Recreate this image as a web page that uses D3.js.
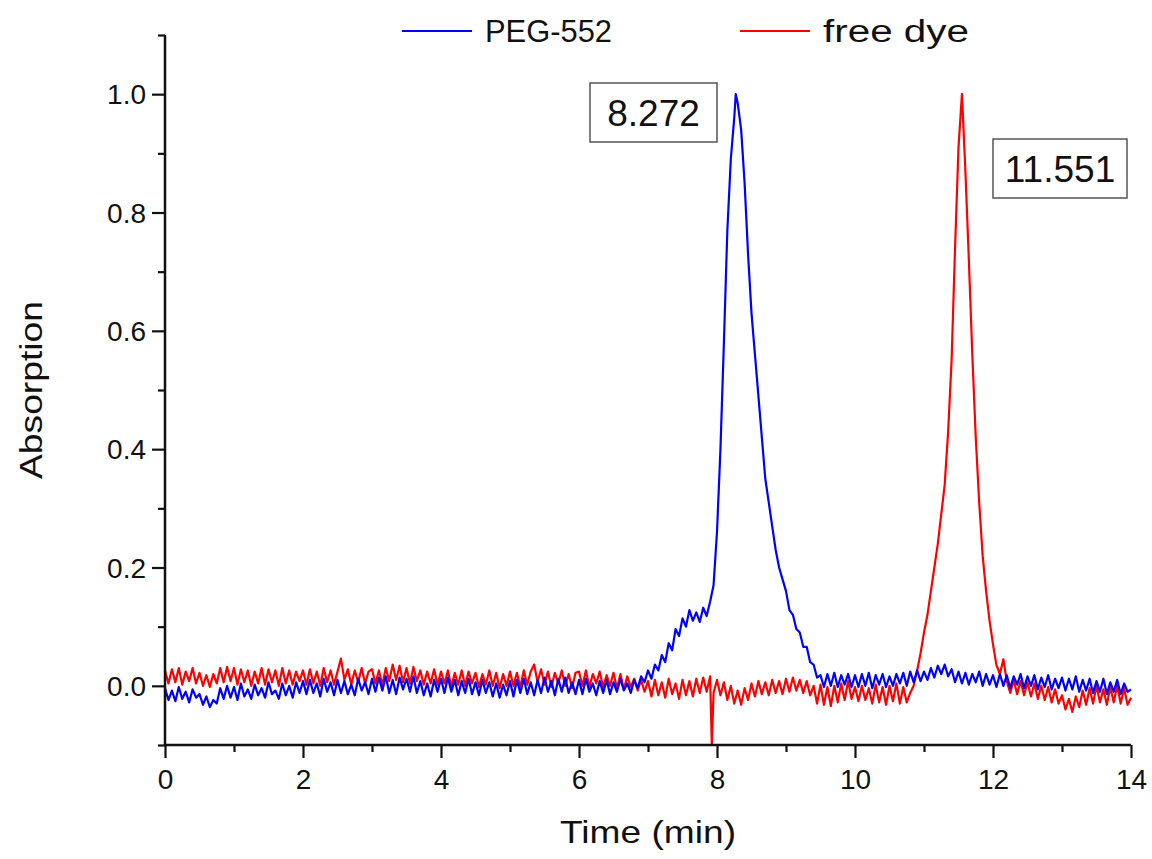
<!DOCTYPE html>
<html>
<head>
<meta charset="utf-8">
<script src="https://cdn.jsdelivr.net/npm/d3@7"></script>
<style>
  html, body { margin: 0; padding: 0; background: #fff; }
  svg { display: block; }
  text { font-family: "Liberation Sans", Arial, Helvetica, sans-serif; fill: #111; }
</style>
</head>
<body>
<svg id="chart" width="1152" height="859"></svg>
<script>
// ---------------- data ----------------
const timeStart = 0;
const timeStep = 0.05;   // min, sampling of the traces below
const xTicks = [0, 2, 4, 6, 8, 10, 12, 14];
const yTicks = [0.0, 0.2, 0.4, 0.6, 0.8, 1.0];
const seriesNames = ["PEG-552", "free dye"];
const peakLabels = ["8.272", "11.551"];

// PEG-552 trace (absorption), one value per 0.05 min from 0 to 14 min
const pegAbs = [
  -0.004,-0.024,-0.008,-0.026,-0.002,-0.022,-0.010,-0.028,-0.006,-0.020,-0.014,-0.032,-0.018,-0.036,-0.024,-0.030,-0.004,-0.022,0.000,-0.020,
  -0.002,-0.024,0.004,-0.018,-0.006,-0.022,0.002,-0.016,-0.004,-0.020,0.006,-0.014,-0.008,-0.022,0.004,-0.016,0.000,-0.020,0.006,-0.012,
  0.008,-0.014,0.010,-0.012,0.004,-0.018,0.012,-0.010,0.006,-0.016,0.010,-0.012,0.008,-0.014,0.002,-0.016,0.012,-0.008,0.006,-0.014,
  0.012,-0.010,0.014,-0.008,0.016,-0.012,0.010,-0.014,0.014,-0.006,0.012,-0.010,0.016,-0.012,0.008,-0.016,0.004,-0.018,0.010,-0.010,
  0.012,-0.012,0.014,-0.010,0.010,-0.016,0.008,-0.012,0.012,-0.014,0.006,-0.016,0.010,-0.012,0.006,-0.018,0.004,-0.020,0.002,-0.016,
  0.008,-0.018,0.010,-0.012,0.012,-0.014,0.006,-0.016,0.010,-0.012,0.014,-0.010,0.008,-0.016,0.012,-0.010,0.014,-0.012,0.006,-0.014,
  0.010,-0.014,0.012,-0.010,0.004,-0.016,0.008,-0.012,0.010,-0.014,0.006,-0.010,0.012,-0.008,0.004,-0.012,0.010,-0.004,0.016,0.006,
  0.026,0.012,0.036,0.026,0.052,0.040,0.072,0.060,0.096,0.084,0.114,0.100,0.128,0.110,0.124,0.108,0.132,0.118,0.142,0.170,
  0.260,0.400,0.580,0.770,0.890,0.960,0.985,0.940,0.850,0.730,0.630,0.560,0.490,0.420,0.350,0.310,0.270,0.230,0.200,0.180,
  0.160,0.128,0.120,0.096,0.090,0.066,0.066,0.040,0.036,0.014,0.018,-0.002,0.020,0.000,0.022,-0.002,0.018,0.002,0.020,-0.002,
  0.018,-0.002,0.020,0.000,0.022,-0.004,0.018,0.002,0.020,-0.002,0.016,0.000,0.020,0.004,0.022,0.000,0.024,0.006,0.026,0.008,
  0.024,0.010,0.030,0.014,0.034,0.020,0.036,0.016,0.028,0.006,0.024,0.004,0.022,0.002,0.020,0.006,0.024,0.000,0.020,0.002,
  0.018,-0.002,0.020,0.000,0.018,-0.004,0.016,0.002,0.020,-0.004,0.016,0.000,0.018,-0.006,0.014,-0.002,0.018,-0.006,0.012,-0.004,
  0.014,-0.008,0.012,-0.006,0.016,-0.010,0.010,-0.008,0.012,-0.012,0.008,-0.010,0.012,-0.014,0.006,-0.010,0.010,-0.014,0.004,-0.010,
  -0.006
];

// free dye trace (absorption), one value per 0.05 min from 0 to 14 min
const dyeAbs = [
  0.026,0.004,0.028,0.006,0.030,0.002,0.024,0.008,0.030,0.004,0.022,0.000,0.018,-0.002,0.020,0.004,0.030,0.006,0.032,0.008,
  0.030,0.002,0.028,0.006,0.026,0.000,0.024,0.004,0.030,0.002,0.028,0.006,0.026,0.000,0.030,0.004,0.026,0.002,0.024,0.008,
  0.026,0.002,0.028,0.004,0.024,0.000,0.030,0.006,0.026,0.002,0.024,0.046,0.010,0.028,0.002,0.026,0.006,0.030,0.004,0.024,
  0.028,0.004,0.026,0.002,0.030,0.008,0.036,0.010,0.034,0.006,0.030,0.004,0.032,0.008,0.026,0.002,0.024,0.004,0.028,0.002,
  0.024,0.004,0.026,-0.002,0.022,0.002,0.026,0.000,0.024,0.004,0.022,-0.002,0.020,0.002,0.026,0.000,0.022,-0.004,0.020,0.000,
  0.024,0.000,0.022,-0.002,0.026,0.002,0.024,0.036,0.006,0.028,0.002,0.024,-0.002,0.022,0.004,0.026,0.000,0.020,-0.004,0.022,
  0.024,0.000,0.026,-0.002,0.020,0.004,0.024,-0.002,0.018,0.000,0.022,-0.004,0.020,-0.006,0.016,-0.002,0.012,-0.008,0.010,-0.010,
  0.008,-0.018,0.010,-0.016,0.006,-0.020,0.012,-0.014,0.004,-0.022,0.010,-0.016,0.008,-0.018,0.012,-0.012,0.014,-0.010,0.016,-0.012,
  0.010,-0.016,0.006,-0.024,0.000,-0.030,-0.008,-0.032,-0.004,-0.024,0.004,-0.018,0.008,-0.014,0.006,-0.016,0.010,-0.012,0.008,-0.014,
  0.012,-0.010,0.014,-0.008,0.010,-0.012,0.008,-0.016,0.000,-0.030,0.002,-0.032,-0.002,-0.034,0.000,-0.028,0.004,-0.024,0.008,-0.022,
  -0.002,-0.026,0.000,-0.024,-0.004,-0.030,0.002,-0.028,-0.002,-0.032,0.000,-0.026,0.004,-0.030,-0.002,-0.028,-0.012,0.000,0.025,0.055,
  0.090,0.120,0.160,0.200,0.240,0.290,0.340,0.430,0.550,0.740,0.910,1.000,0.870,0.720,0.560,0.420,0.310,0.220,0.160,0.110,
  0.070,0.035,0.020,0.045,0.008,-0.012,0.010,-0.014,0.008,-0.016,0.006,-0.018,0.004,-0.022,0.000,-0.024,-0.002,-0.028,-0.006,-0.030,
  -0.016,-0.040,-0.022,-0.044,-0.018,-0.036,-0.008,-0.032,-0.004,-0.030,0.000,-0.028,-0.006,-0.032,-0.002,-0.028,0.000,-0.030,-0.004,-0.032,
  -0.020
];

// individual readings between the regular samples: [time, absorption]
const pegExtra = [[8.272, 1.0]];
const dyeExtra = [[7.925, -0.1]];

// ---------------- chart ----------------
const svg = d3.select("#chart");
const x = d3.scaleLinear().domain([0, 14]).range([165, 1131]);
const y = d3.scaleLinear().domain([-0.1, 1.1]).range([745, 35]);

function toPoints(values, extra) {
  const pts = values.map((v, i) => [timeStart + i * timeStep, v]);
  return pts.concat(extra).sort((a, b) => a[0] - b[0]);
}
const pegPts = toPoints(pegAbs, pegExtra);
const dyePts = toPoints(dyeAbs, dyeExtra);

const line = d3.line().x(d => x(d[0])).y(d => y(d[1]));
const colors = ["#0000ff", "#ff0000"];

// traces: red first, blue on top
svg.append("path").datum(dyePts).attr("d", line)
  .attr("fill", "none").attr("stroke", colors[1]).attr("stroke-width", 2.2).attr("stroke-linejoin", "round");
svg.append("path").datum(pegPts).attr("d", line)
  .attr("fill", "none").attr("stroke", colors[0]).attr("stroke-width", 2.2).attr("stroke-linejoin", "round");

// axes
const axisColor = "#111";
const xAxis = d3.axisBottom(x).tickValues(xTicks).tickFormat(d3.format("d")).tickSize(13).tickPadding(6);
const gx = svg.append("g").attr("transform", `translate(0,${y(-0.1)})`).call(xAxis);
const xMinor = d3.axisBottom(x).tickValues([1, 3, 5, 7, 9, 11, 13]).tickFormat("").tickSize(7);
const gxm = svg.append("g").attr("transform", `translate(0,${y(-0.1)})`).call(xMinor);
gxm.select(".domain").remove();

const yAxis = d3.axisLeft(y).tickValues(yTicks).tickFormat(d3.format(".1f")).tickSize(13).tickPadding(6);
const gy = svg.append("g").attr("transform", `translate(${x(0)},0)`).call(yAxis);
const yMinor = d3.axisLeft(y).tickValues([-0.1, 0.1, 0.3, 0.5, 0.7, 0.9, 1.1]).tickFormat("").tickSize(7);
const gym = svg.append("g").attr("transform", `translate(${x(0)},0)`).call(yMinor);
gym.select(".domain").remove();

[gx, gxm, gy, gym].forEach(g => {
  g.selectAll(".domain").attr("stroke", axisColor).attr("stroke-width", 2.5);
  g.selectAll(".tick line").attr("stroke", axisColor).attr("stroke-width", 2.2);
  g.selectAll(".tick text").style("font-size", "28px").style("font-family", '"Liberation Sans", Arial, sans-serif').attr("fill", "#111");
});
// plain axis lines (no outer ticks)
gx.select(".domain").attr("d", `M${x(0)},0H${x(14)}`);
gy.select(".domain").attr("d", `M0,${y(-0.1)}V${y(1.1)}`);
gx.selectAll(".tick text").attr("dy", "0.9em");
gy.selectAll(".tick text").attr("dy", "0.35em");

// axis titles
svg.append("text").attr("x", x(7)).attr("y", 843).attr("text-anchor", "middle")
  .style("font-size", "32px").attr("textLength", 176).attr("lengthAdjust", "spacingAndGlyphs").text("Time (min)");
svg.append("text").attr("transform", `translate(42,${y(0.5)}) rotate(-90)`).attr("text-anchor", "middle")
  .style("font-size", "32px").attr("textLength", 178).attr("lengthAdjust", "spacingAndGlyphs").text("Absorption");

// legend
const legendX = [402, 740];
const legendLen = [127, 146];
seriesNames.forEach((name, i) => {
  svg.append("line").attr("x1", legendX[i]).attr("x2", legendX[i] + 70).attr("y1", 31).attr("y2", 31)
    .attr("stroke", colors[i]).attr("stroke-width", 2);
  svg.append("text").attr("x", legendX[i] + 83).attr("y", 42).style("font-size", "31px")
    .attr("textLength", legendLen[i]).attr("lengthAdjust", "spacingAndGlyphs").text(name);
});

// peak labels in boxes
const boxes = [
  { label: peakLabels[0], x0: 590, y0: 83, w: 127, h: 59 },
  { label: peakLabels[1], x0: 993, y0: 139, w: 134, h: 59 }
];
boxes.forEach(b => {
  svg.append("rect").attr("x", b.x0).attr("y", b.y0).attr("width", b.w).attr("height", b.h)
    .attr("fill", "#fff").attr("stroke", "#555").attr("stroke-width", 1.5);
  svg.append("text").attr("x", b.x0 + b.w / 2).attr("y", b.y0 + b.h / 2).attr("dy", "0.36em")
    .attr("text-anchor", "middle").style("font-size", "37px").text(b.label);
});
</script>
</body>
</html>
